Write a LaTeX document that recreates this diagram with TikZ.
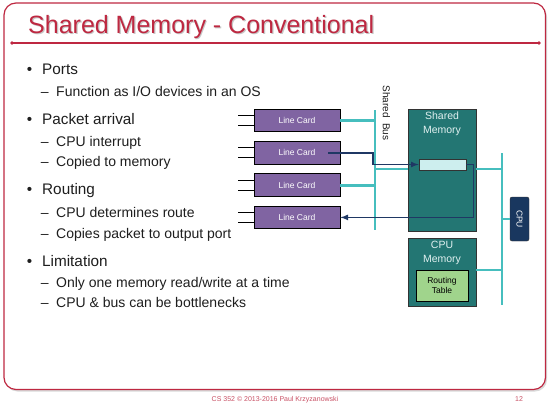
\documentclass[tikz,border=0pt]{standalone}
\usepackage{fontspec}
\setmainfont{Liberation Sans}
\usetikzlibrary{arrows,calc,positioning}
\definecolor{slidered}{RGB}{190,40,65}
\definecolor{textgray}{RGB}{30,30,30}
\definecolor{cardpurple}{RGB}{128,100,162}
\definecolor{memteal}{RGB}{35,118,115}
\definecolor{busteal}{RGB}{70,190,190}
\definecolor{pathblue}{RGB}{31,56,100}
\definecolor{cpublue}{RGB}{25,55,95}
\definecolor{bufcyan}{RGB}{205,238,238}
\definecolor{tablegreen}{RGB}{160,212,140}
\definecolor{footred}{RGB}{200,80,100}
\tikzset{
        titletext/.style = {anchor=base west, inner sep=0pt, text=slidered,
            font=\fontsize{25}{30}\selectfont},
        topitem/.style = {anchor=base west, inner sep=0pt, text=textgray,
            font=\fontsize{15.3}{18}\selectfont,
            execute at begin node=\llap{\textbullet\hspace{10pt}}},
        subitem/.style = {anchor=base west, inner sep=0pt, text=textgray,
            font=\fontsize{14}{16}\selectfont,
            execute at begin node=\llap{--\hspace{7.5pt}}},
        card/.style = {draw=black, fill=cardpurple, line width=0.8pt,
            minimum width=86pt, minimum height=22.5pt, text=white,
            font=\fontsize{8.5}{10}\selectfont},
        mem/.style = {draw=black!80, fill=memteal, line width=0.8pt, minimum width=68pt},
        memtext/.style = {inner sep=0pt, align=center, text=white!88!teal,
            font=\fontsize{10.5}{14}\selectfont},
        buffer/.style = {draw=black!80, fill=bufcyan, line width=0.8pt,
            minimum width=47pt, minimum height=11pt, inner sep=0pt},
        routing/.style = {draw=black, fill=tablegreen, line width=0.8pt,
            minimum width=52pt, minimum height=31pt, inner sep=0pt, align=center,
            font=\fontsize{8.5}{10.5}\selectfont},
        cpu/.style = {draw=black!80, fill=cpublue, rounded corners=2pt, rotate=-90,
            minimum width=44pt, minimum height=19pt, inner sep=0pt, text=white,
            font=\fontsize{8.5}{10}\selectfont},
        bus/.style = {draw=busteal, line width=2.8pt},
        port/.style = {draw=black, line width=1pt},
        datapath/.style = {draw=pathblue, line width=1.6pt, -latex},
        footer/.style = {anchor=base, inner sep=0pt, text=footred,
            font=\fontsize{7}{8}\selectfont},
    }

\begin{document}
\begin{tikzpicture}[x=1pt,y=-1pt]
\useasboundingbox (0,0) rectangle (548,405);

% slide frame and title
\fill[black!15, rounded corners=12pt] (5.5,5) rectangle (547,391.5);
\draw[slidered, line width=1.2pt, fill=white, rounded corners=12pt] (4,3) rectangle (545.5,389.5);
\node[titletext, text=black!22] (titleshadow) at (29.2,34.2) {Shared Memory - Conventional};
\node[titletext] (title) at (28,33) {Shared Memory - Conventional};
\coordinate (rulel) at (12,43);
\coordinate (ruler) at (539,43);
\draw[slidered, line width=1.2pt] (rulel) -- (ruler);
\fill[slidered] (rulel) circle (1.8pt) (ruler) circle (1.8pt);

% bullet list
\node[topitem] (ports) at (42,74) {Ports};
\node[subitem] (portsa) at (56,96) {Function as I/O devices in an OS};
\node[topitem] (arrival) at (42,124) {Packet arrival};
\node[subitem] (arrivala) at (56,146) {CPU interrupt};
\node[subitem] (arrivalb) at (56,166) {Copied to memory};
\node[topitem] (routing) at (42,194) {Routing};
\node[subitem] (routinga) at (56,217) {CPU determines route};
\node[subitem] (routingb) at (56,238) {Copies packet to output port};
\node[topitem] (limit) at (42,266) {Limitation};
\node[subitem] (limita) at (56,287) {Only one memory read/write at a time};
\node[subitem] (limitb) at (56,307) {CPU \& bus can be bottlenecks};

% line cards
\node[card] (card1) at (297,120.5) {Line Card};
\node[card, below=9pt of card1] (card2) {Line Card};
\node[card, below=9pt of card2] (card3) {Line Card};
\node[card, below=9pt of card3] (card4) {Line Card};
\foreach \c in {card1,card2,card3,card4}
  \draw[port] ([yshift=5pt]\c.west) -- ++(-16pt,0) ([yshift=-5pt]\c.west) -- ++(-16pt,0);

% shared bus
\coordinate (bustop) at (375,110);
\coordinate (busbot) at (375,230);
\coordinate (tapmem) at (375,169);
\draw[bus] (bustop) -- (busbot);
\node[rotate=-90, inner sep=0pt, text=textgray, font=\fontsize{10}{12}\selectfont]
  (buslabel) at (386.5,113) {Shared\ \ Bus};
\draw[bus] (card1.east) -- (card1.east -| bustop);
\draw[bus] (card3.east) -- (card3.east -| bustop);

% memories
\node[mem, minimum height=122pt] (shmem) at (442,170) {};
\node[memtext, below=3pt of shmem.north] (shmemlabel) {Shared\\Memory};
\node[buffer] (buf) at (442.5,164.5) {};
\draw[bus] (tapmem) -- (tapmem -| shmem.west);

\node[mem, minimum height=68pt] (cpumem) at (442,272) {};
\node[memtext, below=3pt of cpumem.north] (cpumemlabel) {CPU\\Memory};
\node[routing] (rtable) at (442,285.5) {Routing\\Table};

% cpu bus
\coordinate (rbustop) at (502,153);
\coordinate (rbusbot) at (502,305);
\draw[bus] (rbustop) -- (rbusbot);
\draw[bus] (shmem.east |- tapmem) -- (tapmem -| rbustop);
\draw[bus] ([yshift=2pt]cpumem.east) -- ([yshift=2pt]cpumem.east -| rbustop);
\node[cpu] (cpu) at (519.5,219) {CPU};
\draw[bus] (cpu.center -| rbustop) -- (cpu);

% packet path
\draw[datapath] ([xshift=-12pt]card2.east) -- ([xshift=-2pt]card2.east -| bustop) |- (buf.west);
\draw[datapath] (buf.east) -- ++(7pt,0) |- (card4.east);

% footer
\node[footer] (foot) at (275,401) {CS 352 \textcopyright{} 2013-2016 Paul Krzyzanowski};
\node[footer] (pageno) at (519,401) {12};
\end{tikzpicture}
\end{document}
